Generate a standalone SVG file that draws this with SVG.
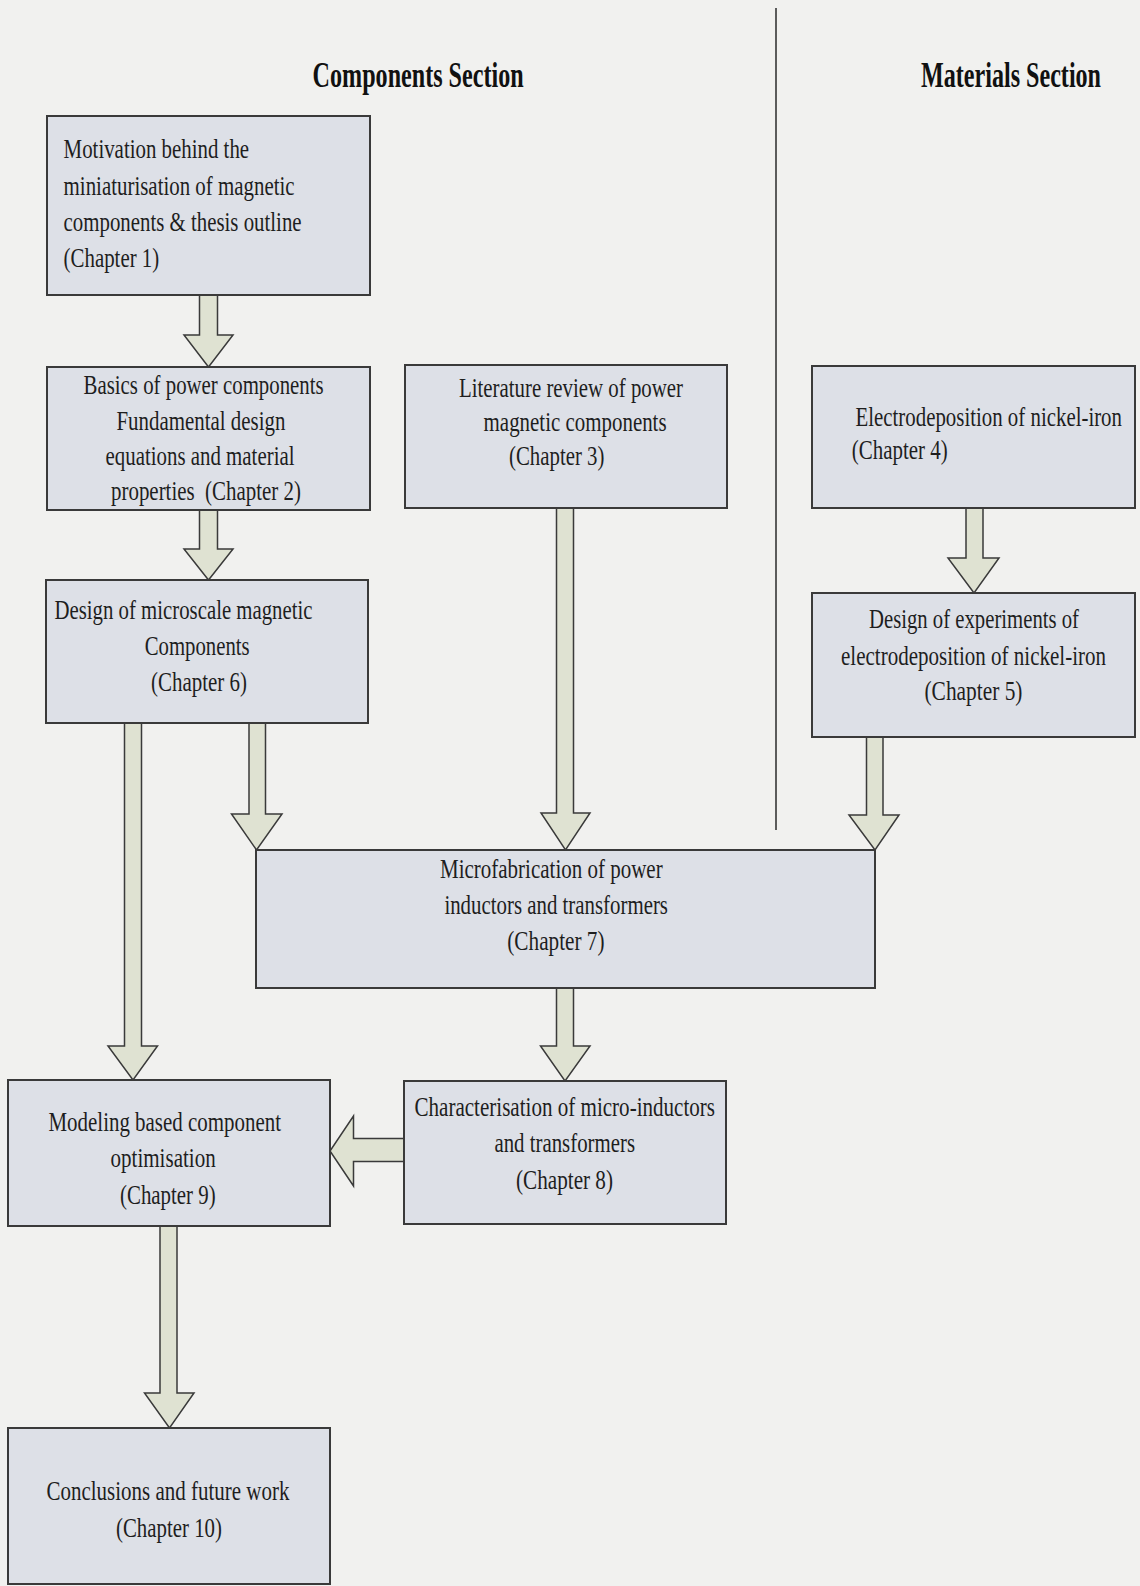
<svg xmlns="http://www.w3.org/2000/svg" width="1140" height="1586" viewBox="0 0 1140 1586">
<style>
.bg{fill:#f1f1ef}
.box{fill:#dde0e7;stroke:#3a3a3a;stroke-width:2}
.arr{fill:#dfe2d2;stroke:#3a3a3a;stroke-width:1.5;stroke-linejoin:miter}
.t{font-family:"Liberation Serif","Times New Roman",serif;font-size:28px;fill:#1e1e1e}
.h{font-family:"Liberation Serif","Times New Roman",serif;font-size:36px;font-weight:bold;fill:#111}
.div{stroke:#2a2a2a;stroke-width:1.5}
</style>
<rect class="bg" x="0" y="0" width="1140" height="1586"/>

<g id="headers">
<text class="h" transform="translate(312.6 87) scale(0.67 1)" x="0" y="0" textLength="315" lengthAdjust="spacingAndGlyphs">Components Section</text>
<text class="h" transform="translate(921 87) scale(0.67 1)" x="0" y="0" textLength="268.7" lengthAdjust="spacingAndGlyphs">Materials Section</text>
<line class="div" x1="776" y1="8" x2="776" y2="830"/>
</g>

<g id="connectors">
<polygon id="a1" class="arr" points="199.5,295 217.5,295 217.5,335 233,335 208.5,367 184,335 199.5,335"/>
<polygon id="a2" class="arr" points="199.5,510 217.5,510 217.5,549 233,549 208.5,580 184,549 199.5,549"/>
<polygon id="a3" class="arr" points="124.5,723 141.5,723 141.5,1046 157.5,1046 133,1080 108,1046 124.5,1046"/>
<polygon id="a4" class="arr" points="249,723 265.5,723 265.5,814 282,814 256.5,850 231.5,814 249,814"/>
<polygon id="a5" class="arr" points="556.5,508 573.5,508 573.5,813 590,813 565.5,850 541,813 556.5,813"/>
<polygon id="a6" class="arr" points="966,508 983,508 983,558 999,558 974,593 948,558 966,558"/>
<polygon id="a7" class="arr" points="866.5,737 883,737 883,815 899,815 875,850 849,815 866.5,815"/>
<polygon id="a8" class="arr" points="556.5,988 573.5,988 573.5,1046 590,1046 565,1081 540.5,1046 556.5,1046"/>
<polygon id="a9" class="arr" points="404,1138.5 353.5,1138.5 353.5,1116 330,1151 353.5,1186 353.5,1161.5 404,1161.5"/>
<polygon id="a10" class="arr" points="160,1226 177,1226 177,1393 194,1393 169.5,1428 144.5,1393 160,1393"/>
</g>

<g id="n1">
<rect class="box" x="47" y="116" width="323" height="179"/>
<text class="t" transform="translate(63.6 158) scale(0.7 1)" textLength="265" lengthAdjust="spacingAndGlyphs">Motivation behind the</text>
<text class="t" transform="translate(63.6 194.5) scale(0.7 1)" textLength="330" lengthAdjust="spacingAndGlyphs">miniaturisation of magnetic</text>
<text class="t" transform="translate(63.6 231) scale(0.7 1)" textLength="340" lengthAdjust="spacingAndGlyphs">components &amp; thesis outline</text>
<text class="t" transform="translate(63.6 267) scale(0.7 1)" textLength="136.6" lengthAdjust="spacingAndGlyphs">(Chapter 1)</text>
</g>

<g id="n2">
<rect class="box" x="47" y="367" width="323" height="143"/>
<text class="t" transform="translate(83.6 394) scale(0.7 1)" textLength="342.9" lengthAdjust="spacingAndGlyphs">Basics of power components</text>
<text class="t" transform="translate(116.4 430) scale(0.7 1)" textLength="241.4" lengthAdjust="spacingAndGlyphs">Fundamental design</text>
<text class="t" transform="translate(105.5 465) scale(0.7 1)" textLength="270" lengthAdjust="spacingAndGlyphs">equations and material</text>
<text class="t" transform="translate(111 500) scale(0.7 1)" textLength="271.4" lengthAdjust="spacingAndGlyphs" xml:space="preserve">properties  (Chapter 2)</text>
</g>

<g id="n3">
<rect class="box" x="405" y="365" width="322" height="143"/>
<text class="t" transform="translate(459 397) scale(0.7 1)" textLength="320" lengthAdjust="spacingAndGlyphs">Literature review of power</text>
<text class="t" transform="translate(483.6 431) scale(0.7 1)" textLength="261.4" lengthAdjust="spacingAndGlyphs">magnetic components</text>
<text class="t" transform="translate(509 465) scale(0.7 1)" textLength="136.4" lengthAdjust="spacingAndGlyphs">(Chapter 3)</text>
</g>

<g id="n4">
<rect class="box" x="812" y="366" width="323" height="142"/>
<text class="t" transform="translate(855.5 426) scale(0.7 1)" textLength="380.7" lengthAdjust="spacingAndGlyphs">Electrodeposition of nickel-iron</text>
<text class="t" transform="translate(851.8 459) scale(0.7 1)" textLength="137.1" lengthAdjust="spacingAndGlyphs">(Chapter 4)</text>
</g>

<g id="n5">
<rect class="box" x="812" y="593" width="323" height="144"/>
<text class="t" transform="translate(869 628) scale(0.7 1)" textLength="300" lengthAdjust="spacingAndGlyphs">Design of experiments of</text>
<text class="t" transform="translate(841 665) scale(0.7 1)" textLength="378.6" lengthAdjust="spacingAndGlyphs">electrodeposition of nickel-iron</text>
<text class="t" transform="translate(924.5 700) scale(0.7 1)" textLength="140" lengthAdjust="spacingAndGlyphs">(Chapter 5)</text>
</g>

<g id="n6">
<rect class="box" x="46" y="580" width="322" height="143"/>
<text class="t" transform="translate(54.5 619) scale(0.7 1)" textLength="368.6" lengthAdjust="spacingAndGlyphs">Design of microscale magnetic</text>
<text class="t" transform="translate(144.7 655) scale(0.7 1)" textLength="150" lengthAdjust="spacingAndGlyphs">Components</text>
<text class="t" transform="translate(151 691) scale(0.7 1)" textLength="137.1" lengthAdjust="spacingAndGlyphs">(Chapter 6)</text>
</g>

<g id="n7">
<rect class="box" x="256" y="850" width="619" height="138"/>
<text class="t" transform="translate(440 878) scale(0.7 1)" textLength="318.1" lengthAdjust="spacingAndGlyphs">Microfabrication of power</text>
<text class="t" transform="translate(444.4 914) scale(0.7 1)" textLength="319.4" lengthAdjust="spacingAndGlyphs">inductors and transformers</text>
<text class="t" transform="translate(507.3 950) scale(0.7 1)" textLength="138.9" lengthAdjust="spacingAndGlyphs">(Chapter 7)</text>
</g>

<g id="n8">
<rect class="box" x="404" y="1081" width="322" height="143"/>
<text class="t" transform="translate(414.5 1116) scale(0.7 1)" textLength="429.3" lengthAdjust="spacingAndGlyphs">Characterisation of micro-inductors</text>
<text class="t" transform="translate(494.4 1152) scale(0.7 1)" textLength="200.9" lengthAdjust="spacingAndGlyphs">and transformers</text>
<text class="t" transform="translate(516 1189) scale(0.7 1)" textLength="138.6" lengthAdjust="spacingAndGlyphs">(Chapter 8)</text>
</g>

<g id="n9">
<rect class="box" x="8" y="1080" width="322" height="146"/>
<text class="t" transform="translate(48.5 1131) scale(0.7 1)" textLength="332.1" lengthAdjust="spacingAndGlyphs">Modeling based component</text>
<text class="t" transform="translate(110.5 1167) scale(0.7 1)" textLength="150.3" lengthAdjust="spacingAndGlyphs">optimisation</text>
<text class="t" transform="translate(120 1204) scale(0.7 1)" textLength="136.7" lengthAdjust="spacingAndGlyphs">(Chapter 9)</text>
</g>

<g id="n10">
<rect class="box" x="8" y="1428" width="322" height="156"/>
<text class="t" transform="translate(46.5 1500) scale(0.7 1)" textLength="347.1" lengthAdjust="spacingAndGlyphs">Conclusions and future work</text>
<text class="t" transform="translate(116 1537) scale(0.7 1)" textLength="151.4" lengthAdjust="spacingAndGlyphs">(Chapter 10)</text>
</g>
</svg>
